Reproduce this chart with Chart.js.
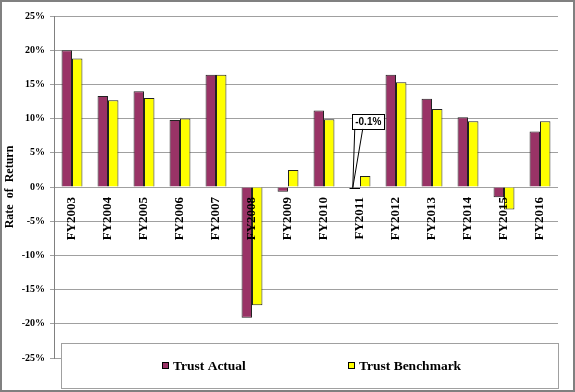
<html>
<head>
  <meta charset="utf-8">
  <title>Rate of Return</title>
  <script src="https://cdn.jsdelivr.net/npm/chart.js"></script>
  <style>
    body { margin: 0; background: white; }
    canvas { display: block; }
  </style>
</head>
<body>
<canvas id="chart" width="575" height="392"></canvas>
<script>
const years = ["FY2003", "FY2004", "FY2005", "FY2006", "FY2007", "FY2008", "FY2009",
  "FY2010", "FY2011", "FY2012", "FY2013", "FY2014", "FY2015", "FY2016"];
const trustActual = [20.0, 13.3, 14.0, 9.8, 16.4, -19.1, -0.7, 11.2, -0.1, 16.4, 12.9, 10.2, -1.5, 8.1];
const trustBenchmark = [18.8, 12.7, 13.0, 10.0, 16.4, -17.3, 2.5, 9.9, 1.6, 15.3, 11.4, 9.6, -3.3, 9.6];
const calloutIndex = 8;

const serif = "'Liberation Serif', 'Times New Roman', serif";

// callout for the tiny FY2011 bar
const calloutPlugin = {
  id: 'callout',
  afterDatasetsDraw(chart) {
    const el = chart.getDatasetMeta(0).data[calloutIndex];
    const ctx = chart.ctx;
    const px = el.x - 2, py = el.y;
    const bx = px - 1, by = py - 74, bw = 32, bh = 15;
    ctx.save();
    ctx.strokeStyle = '#000';
    ctx.lineWidth = 1;
    ctx.beginPath();
    ctx.moveTo(el.x - el.width / 2, Math.round(py) + 0.5);
    ctx.lineTo(el.x + el.width / 2, Math.round(py) + 0.5);
    ctx.moveTo(px + 2, by + bh);
    ctx.lineTo(px, py);
    ctx.lineTo(px + 10, by + bh);
    ctx.stroke();
    ctx.fillStyle = '#fff';
    ctx.fillRect(bx, by, bw, bh);
    ctx.strokeRect(Math.round(bx) + 0.5, Math.round(by) + 0.5, bw, bh);
    ctx.fillStyle = '#000';
    ctx.font = "bold 10px 'Liberation Sans', Arial, sans-serif";
    ctx.textAlign = 'center';
    ctx.textBaseline = 'middle';
    ctx.fillText(trustActual[calloutIndex].toFixed(1) + '%', bx + bw / 2 + 0.5, by + bh / 2 + 1);
    ctx.restore();
  }
};

// boxed legend over the bottom of the plot + outer frame
const frameLegendPlugin = {
  id: 'frameLegend',
  afterDraw(chart) {
    const ctx = chart.ctx;
    const a = chart.chartArea;
    ctx.save();
    const lx = a.left + 7, ly = a.bottom - 15, lw = a.right - a.left - 7, lh = 45;
    ctx.fillStyle = '#fff';
    ctx.fillRect(lx, ly, lw, lh);
    ctx.strokeStyle = '#a0a0a0';
    ctx.lineWidth = 1;
    ctx.strokeRect(lx + 0.5, ly + 0.5, lw, lh);

    ctx.font = 'bold 13.5px ' + serif;
    ctx.textBaseline = 'middle';
    ctx.textAlign = 'left';
    const cy = ly + 23;
    const items = [[chart.data.datasets[0], 162], [chart.data.datasets[1], 348]];
    items.forEach(([ds, x]) => {
      ctx.fillStyle = ds.backgroundColor;
      ctx.fillRect(x, cy - 4, 7, 7);
      ctx.strokeStyle = '#000';
      ctx.strokeRect(x + 0.5, cy - 3.5, 6, 6);
      ctx.fillStyle = '#000';
      ctx.fillText(ds.label, x + 11, cy + 1);
    });

    ctx.strokeStyle = '#808080';
    ctx.lineWidth = 2;
    ctx.strokeRect(1, 1, chart.width - 2, chart.height - 2);
    ctx.restore();
  }
};

new Chart(document.getElementById('chart'), {
  type: 'bar',
  data: {
    labels: years,
    datasets: [{
      label: 'Trust Actual',
      data: trustActual,
      backgroundColor: '#993366',
      borderColor: '#222',
      borderWidth: 1,
      categoryPercentage: 0.58,
      barPercentage: 1
    }, {
      label: 'Trust Benchmark',
      data: trustBenchmark,
      backgroundColor: '#ffff00',
      borderColor: '#222',
      borderWidth: 1,
      categoryPercentage: 0.58,
      barPercentage: 1
    }]
  },
  options: {
    responsive: false,
    animation: false,
    layout: { padding: { top: 16, right: 17, bottom: 34, left: 0 } },
    plugins: {
      legend: { display: false },
      tooltip: { enabled: false }
    },
    scales: {
      x: {
        position: { y: 0 },
        grid: { display: false, drawTicks: false },
        border: { display: false },
        ticks: {
          z: 1,
          autoSkip: false,
          minRotation: 90,
          maxRotation: 90,
          padding: 10,
          color: '#000',
          font: { family: serif, size: 13, weight: 'bold' }
        }
      },
      y: {
        min: -25,
        max: 25,
        afterFit(scale) { scale.width = 54; },
        ticks: {
          stepSize: 5,
          padding: 5,
          color: '#000',
          font: { family: serif, size: 10, weight: 'bold' },
          callback: v => v + '%'
        },
        grid: { color: '#a0a0a0', tickLength: 4, lineWidth: 1 },
        border: { color: '#808080' },
        title: {
          display: true,
          text: 'Rate  of  Return',
          color: '#000',
          padding: { top: 3, bottom: 0 },
          font: { family: serif, size: 12, weight: 'bold' }
        }
      }
    }
  },
  plugins: [calloutPlugin, frameLegendPlugin]
});
</script>
</body>
</html>
